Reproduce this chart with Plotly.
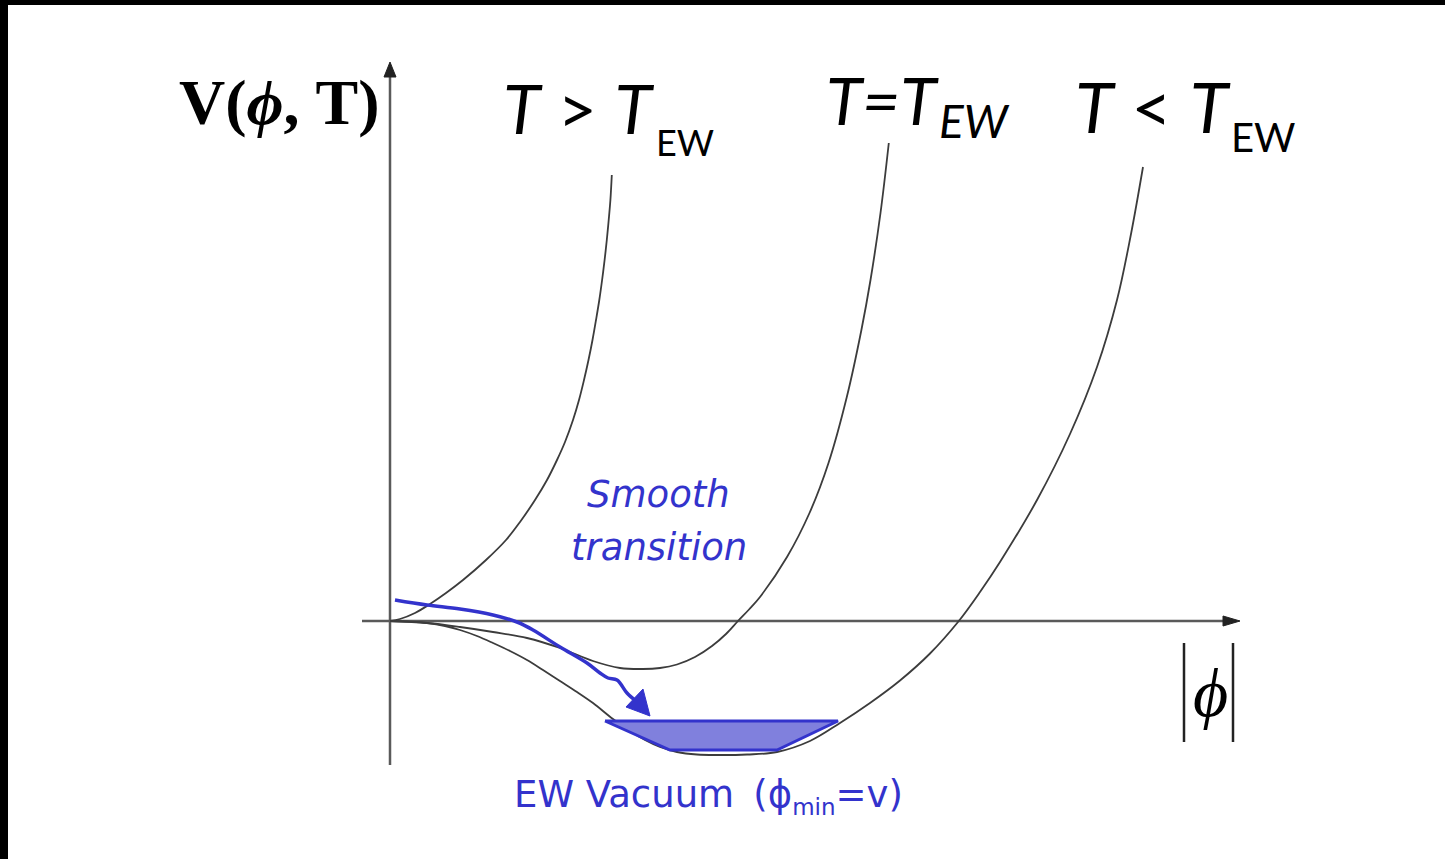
import plotly.graph_objects as go

W, H = 1445, 859

# ---------------- data (phi, V) ----------------
# T > T_EW : single minimum at the origin
phi_high = [0.00, 0.10, 0.25, 0.40, 0.56, 0.73, 0.96, 1.16, 1.30, 1.45, 1.57, 1.67, 1.75,
            1.83, 1.89, 1.94, 1.985, 2.025, 2.06, 2.093, 2.121, 2.146, 2.168, 2.187, 2.204, 2.218]
v_high   = [0.00, 0.02, 0.08, 0.17, 0.28, 0.41, 0.61, 0.81, 0.99, 1.21, 1.41, 1.61, 1.79,
            2.01, 2.21, 2.41, 2.61, 2.81, 3.01, 3.21, 3.41, 3.61, 3.81, 4.01, 4.21, 4.46]

# T = T_EW
phi_crit = [0.00, 0.37, 0.70, 1.03, 1.37, 1.70, 2.03, 2.30, 2.53, 2.70, 2.87, 3.05, 3.22,
            3.36, 3.48, 3.59, 3.70, 3.97, 4.195, 4.385, 4.568, 4.714, 4.805, 4.905, 4.988]
v_crit   = [0.00, -0.02, -0.06, -0.11, -0.17, -0.27, -0.40, -0.47, -0.48, -0.47, -0.435, -0.36, -0.25,
            -0.13, 0.00, 0.115, 0.24, 0.64, 1.08, 1.58, 2.24, 2.91, 3.41, 4.08, 4.78]

# T < T_EW
phi_low = [0.00, 0.20, 0.37, 0.55, 0.70, 0.87, 1.03, 1.20, 1.37, 1.53, 1.70, 1.87, 2.03,
           2.23, 2.40, 2.55, 2.70, 2.87, 3.07, 3.27, 3.57, 3.87, 4.20, 4.50, 4.80, 5.10,
           5.40, 5.68, 5.90, 6.10, 6.47, 6.80, 7.07, 7.27, 7.41, 7.53]
v_low   = [0.00, -0.007, -0.02, -0.05, -0.09, -0.15, -0.22, -0.30, -0.39, -0.49, -0.60, -0.71, -0.82,
           -0.98, -1.10, -1.19, -1.26, -1.31, -1.335, -1.34, -1.335, -1.31, -1.20, -1.02, -0.82, -0.595,
           -0.325, -0.01, 0.29, 0.59, 1.21, 1.87, 2.54, 3.21, 3.87, 4.54]

# blue "smooth transition" path and its arrow head
path_phi = [0.05, 0.37, 0.70, 1.03, 1.27, 1.43, 1.70, 1.97, 2.10, 2.18, 2.27, 2.37, 2.46]
path_v   = [0.21, 0.16, 0.12, 0.06, -0.01, -0.09, -0.26, -0.42, -0.52, -0.57, -0.59, -0.72, -0.80]
head_phi = [2.60, 2.36, 2.53, 2.60]
head_v   = [-0.95, -0.86, -0.68, -0.95]

# EW vacuum region (shaded)
vac_phi = [2.15, 4.48, 3.87, 2.80, 2.15]
vac_v   = [-1.00, -1.00, -1.29, -1.29, -1.00]

# coordinate axes (line + arrow head)
yaxis_phi = [0.00, 0.00]
yaxis_v   = [-1.44, 5.46]
yhead_phi = [-0.06, 0.06, 0.00, -0.06]
yhead_v   = [5.44, 5.44, 5.59, 5.44]
xaxis_phi = [-0.28, 8.36]
xaxis_v   = [0.00, 0.00]
xhead_phi = [8.33, 8.33, 8.50, 8.33]
xhead_v   = [0.05, -0.05, 0.00, 0.05]

BLUE = "#3333cc"
CURVE = "#3c3c3c"
AXIS = "#5a5a5a"

fig = go.Figure()

def line(x, y, color, width, shape="linear"):
    ln = dict(color=color, width=width, shape=shape)
    if shape == "spline":
        ln["smoothing"] = 1.0
    fig.add_trace(go.Scatter(x=x, y=y, mode="lines", line=ln,
                             hoverinfo="skip", showlegend=False))

def tri(x, y, color):
    fig.add_trace(go.Scatter(x=x, y=y, mode="lines", fill="toself", fillcolor=color,
                             line=dict(color=color, width=1), hoverinfo="skip", showlegend=False))

# axes
line(yaxis_phi, yaxis_v, AXIS, 2.5)
tri(yhead_phi, yhead_v, "#222222")
line(xaxis_phi, xaxis_v, AXIS, 2.5)
tri(xhead_phi, xhead_v, "#222222")

# potential curves
line(phi_high, v_high, CURVE, 1.8, "spline")
line(phi_crit, v_crit, CURVE, 1.8, "spline")
line(phi_low, v_low, CURVE, 1.8, "spline")

# vacuum region
fig.add_trace(go.Scatter(x=vac_phi, y=vac_v, mode="lines", fill="toself", fillcolor="#8080dd",
                         line=dict(color=BLUE, width=3), hoverinfo="skip", showlegend=False))

# transition path
line(path_phi, path_v, BLUE, 3.5, "spline")
tri(head_phi, head_v, BLUE)


def px(x):
    return x / W


def py(y):
    return 1 - y / H


ann = []

def text(t, x, y, size, family, color="black", xanchor="center", yanchor="middle"):
    ann.append(dict(text=t, x=px(x), y=py(y), xref="paper", yref="paper", showarrow=False,
                    xanchor=xanchor, yanchor=yanchor,
                    font=dict(size=size, family=family, color=color)))

SERIF = "Liberation Serif, DejaVu Serif"
SANS = "Lato"
VER = "DejaVu Sans"

text("<b>V(<i>ϕ</i>, T)</b>", 279, 103, 64, SERIF)

text("<i>T</i> > <i>T</i>", 656, 108, 68, SANS, xanchor="right")
text("EW", 654, 142, 36, SANS, xanchor="left")

text("<i>T=T</i>", 941, 100, 66, SANS, xanchor="right")
text("<i>EW</i>", 937, 120, 46, SANS, xanchor="left")

text("<i>T</i> < <i>T</i>", 1233, 106, 70, SANS, xanchor="right")
text("EW", 1229, 137, 40, SANS, xanchor="left")

text("<i>Smooth</i>", 658, 494, 37, VER, BLUE)
text("<i>transition</i>", 659, 547, 37, VER, BLUE)

text("EW Vacuum\u2009 (ϕ<sub><span style='font-size:23px'>min</span></sub>=v)", 512, 771, 37, VER, BLUE,
     xanchor="left", yanchor="top")

text("<i>ϕ</i>", 1210, 693, 68, SERIF)

shapes = [
    # |phi| delimiters
    dict(type="line", xref="paper", yref="paper", x0=px(1184), x1=px(1184), y0=py(643), y1=py(742),
         line=dict(color="#222222", width=2.5)),
    dict(type="line", xref="paper", yref="paper", x0=px(1233), x1=px(1233), y0=py(643), y1=py(742),
         line=dict(color="#222222", width=2.5)),
    # black frame edges
    dict(type="rect", xref="paper", yref="paper", x0=0, x1=px(8), y0=0, y1=1,
         fillcolor="black", line=dict(width=0), layer="above"),
    dict(type="rect", xref="paper", yref="paper", x0=0, x1=1, y0=py(5), y1=1,
         fillcolor="black", line=dict(width=0), layer="above"),
]

fig.update_layout(
    width=W, height=H,
    margin=dict(l=0, r=0, t=0, b=0),
    paper_bgcolor="white", plot_bgcolor="white",
    xaxis=dict(range=[-3.90, 10.55], visible=False, fixedrange=True),
    yaxis=dict(range=[-2.38, 6.21], visible=False, fixedrange=True),
    annotations=ann, shapes=shapes, showlegend=False, hovermode=False,
)

fig.write_html("out.html", config={"displayModeBar": False},
               post_script="document.body.style.margin='0';document.body.style.overflow='hidden';")
